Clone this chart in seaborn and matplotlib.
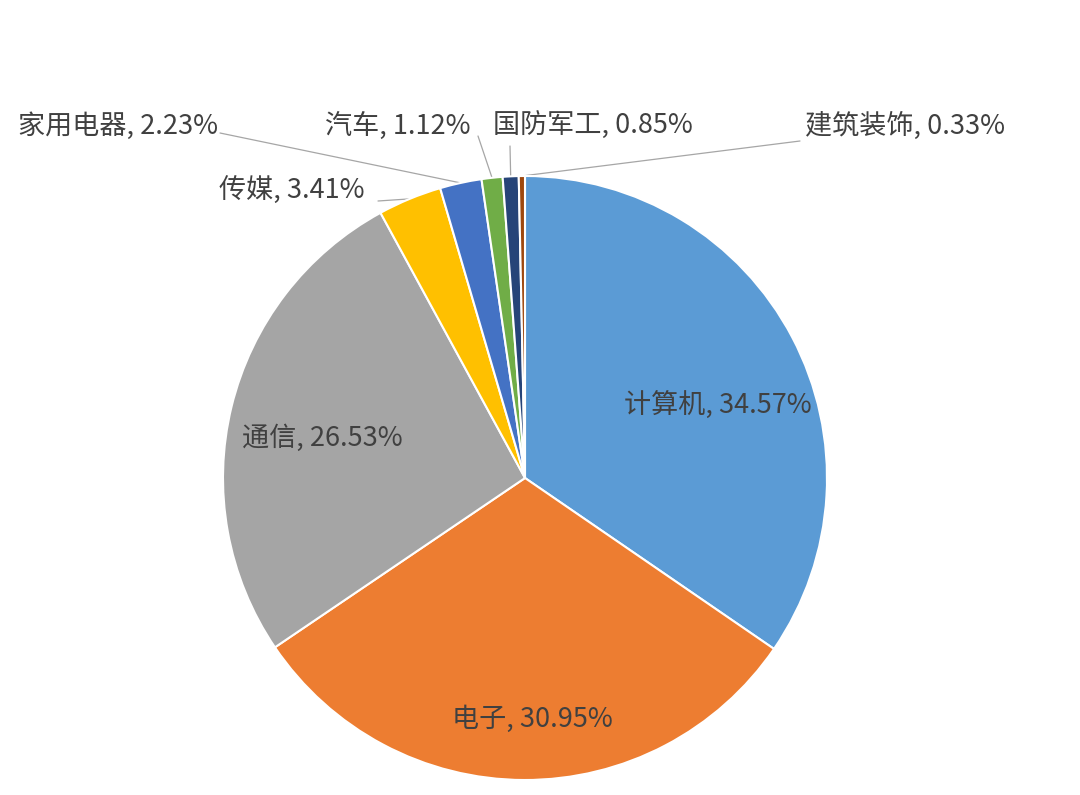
import numpy as np
import matplotlib
matplotlib.use('Agg')
import matplotlib.pyplot as plt
import seaborn as sns

# 行业占比数据
industries = ['计算机', '电子', '通信', '传媒', '家用电器', '汽车', '国防军工', '建筑装饰']
shares = [34.57, 30.95, 26.53, 3.41, 2.23, 1.12, 0.85, 0.33]
colors_hex = ['#5B9BD5', '#ED7D31', '#A5A5A5', '#FFC000',
              '#4472C4', '#70AD47', '#264478', '#9E480E']

# layout: pie centre / radius in image pixels
W, H = 1080, 795
CX, CY, R = 525, 478, 302

# label centre positions (image pixels)
label_px = [(718, 406), (532, 719), (322, 438), (292, 191),
            (118, 126), (398, 126), (593, 126), (905, 126)]
# leader line start next to the text (None = label sits inside the slice)
leader_px = [None, None, None, (378, 201), (220, 133), (478, 136), (510, 146), (800, 141)]


def px2data(p):
    return ((p[0] - CX) / R, (CY - p[1]) / R)


sns.set_theme(style='white')
plt.rcParams['font.family'] = ['Noto Sans CJK SC', 'DejaVu Sans']

fig = plt.figure(figsize=(W / 100, H / 100), dpi=100)
ax = fig.add_axes([0, 0, 1, 1])

palette = sns.color_palette(colors_hex)
wedges, _ = ax.pie(shares, colors=palette, startangle=90, counterclock=False,
                   radius=1, center=(0, 0),
                   wedgeprops=dict(edgecolor='white', linewidth=1.5))

ax.set_xlim(-CX / R, (W - CX) / R)
ax.set_ylim(-(H - CY) / R, CY / R)
ax.set_aspect('equal', adjustable='datalim')
ax.axis('off')

for w, name, val, lp, ld in zip(wedges, industries, shares, label_px, leader_px):
    tx, ty = px2data(lp)
    ax.text(tx, ty, f'{name}, {val:.2f}%', ha='center', va='center',
            fontsize=19.5, color='#404040')
    if ld is not None:
        mid = np.deg2rad((w.theta1 + w.theta2) / 2)
        ex, ey = w.r * np.cos(mid), w.r * np.sin(mid)
        sx, sy = px2data(ld)
        ax.plot([sx, ex], [sy, ey], color='#a6a6a6', linewidth=0.9, zorder=0)

fig.savefig('out.png', dpi=100, facecolor='white')
